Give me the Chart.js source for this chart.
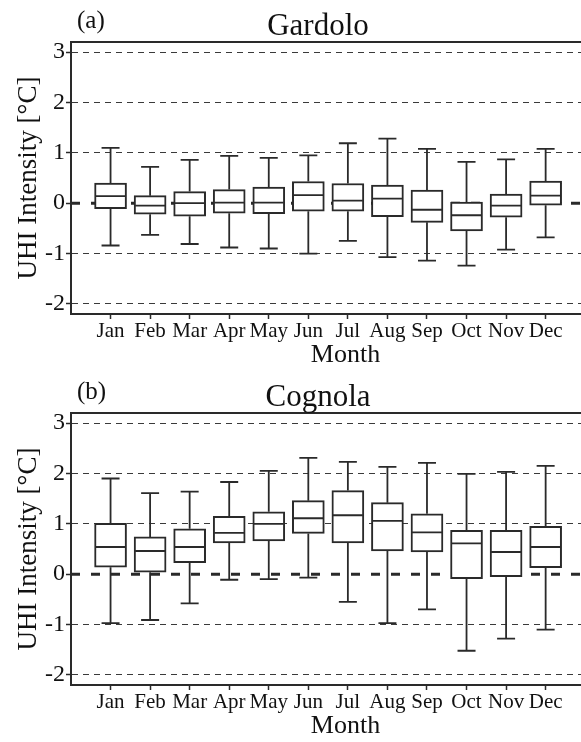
<!DOCTYPE html>
<html>
<head>
<meta charset="utf-8">
<script src="https://cdn.jsdelivr.net/npm/chart.js@4"></script>
<style>
  html, body { margin: 0; padding: 0; background: #fff; }
  #wrap { width: 581px; height: 742px; overflow: hidden; position: relative; }
  canvas { display: block; }
</style>
</head>
<body>
<div id="wrap">
  <canvas id="gardolo" width="620" height="371"></canvas>
  <canvas id="cognola" width="620" height="371"></canvas>
</div>
<script>
// months on the x axis
const months = ['Jan', 'Feb', 'Mar', 'Apr', 'May', 'Jun', 'Jul', 'Aug', 'Sep', 'Oct', 'Nov', 'Dec'];
const yTicks = [-2, -1, 0, 1, 2, 3];

// (a) Gardolo - box plot values, °C
const gardoloMin = [-0.84, -0.63, -0.81, -0.88, -0.90, -1.00, -0.75, -1.07, -1.14, -1.24, -0.92, -0.68];
const gardoloQ1  = [-0.11, -0.22, -0.26, -0.20, -0.21, -0.16, -0.16, -0.27, -0.38, -0.55, -0.28, -0.04];
const gardoloMed = [0.14, -0.05, 0.00, 0.01, 0.01, 0.16, 0.05, 0.09, -0.13, -0.24, -0.05, 0.15];
const gardoloQ3  = [0.40, 0.15, 0.23, 0.27, 0.32, 0.43, 0.39, 0.36, 0.26, 0.02, 0.18, 0.44];
const gardoloMax = [1.10, 0.72, 0.86, 0.94, 0.90, 0.95, 1.19, 1.28, 1.08, 0.82, 0.87, 1.08];

// (b) Cognola
const cognolaMin = [-0.97, -0.91, -0.58, -0.11, -0.10, -0.07, -0.55, -0.97, -0.70, -1.52, -1.28, -1.10];
const cognolaQ1  = [0.14, 0.04, 0.23, 0.62, 0.66, 0.81, 0.62, 0.46, 0.44, -0.09, -0.05, 0.13];
const cognolaMed = [0.54, 0.46, 0.54, 0.82, 1.00, 1.11, 1.17, 1.06, 0.83, 0.61, 0.44, 0.54];
const cognolaQ3  = [1.01, 0.74, 0.90, 1.15, 1.24, 1.46, 1.66, 1.42, 1.20, 0.87, 0.87, 0.95];
const cognolaMax = [1.90, 1.61, 1.64, 1.83, 2.05, 2.31, 2.23, 2.13, 2.21, 1.99, 2.03, 2.15];

Chart.defaults.font.family = "'Liberation Serif', 'Times New Roman', serif";
Chart.defaults.color = '#111';

const ink = '#2a2a2a';

// whiskers, medians, zero line, top frame and panel labels
const boxPlugin = {
  id: 'boxExtras',
  beforeDatasetsDraw(chart) {
    const ctx = chart.ctx, a = chart.chartArea, ys = chart.scales.y;
    const y0 = ys.getPixelForValue(0);
    ctx.save();
    ctx.strokeStyle = ink;
    ctx.lineWidth = 3;
    ctx.setLineDash([9, 11]);
    ctx.beginPath();
    ctx.moveTo(a.left, y0);
    ctx.lineTo(a.right, y0);
    ctx.stroke();
    ctx.setLineDash([]);
    ctx.lineWidth = 2;
    ctx.beginPath();
    ctx.moveTo(a.left, a.top);
    ctx.lineTo(a.right, a.top);
    ctx.stroke();
    ctx.restore();
  },
  afterDatasetsDraw(chart) {
    const ctx = chart.ctx, xs = chart.scales.x, ys = chart.scales.y;
    const st = chart.options.plugins.boxExtras;
    ctx.save();
    ctx.strokeStyle = ink;
    ctx.lineWidth = 1.8;
    st.med.forEach((m, i) => {
      const x = xs.getPixelForValue(i + 1);
      const pMin = ys.getPixelForValue(st.min[i]);
      const pMax = ys.getPixelForValue(st.max[i]);
      const pQ1 = ys.getPixelForValue(st.q1[i]);
      const pQ3 = ys.getPixelForValue(st.q3[i]);
      const pMed = ys.getPixelForValue(m);
      ctx.beginPath();
      ctx.moveTo(x, pQ3); ctx.lineTo(x, pMax);
      ctx.moveTo(x - 9, pMax); ctx.lineTo(x + 9, pMax);
      ctx.moveTo(x, pQ1); ctx.lineTo(x, pMin);
      ctx.moveTo(x - 9, pMin); ctx.lineTo(x + 9, pMin);
      ctx.moveTo(x - 15, pMed); ctx.lineTo(x + 15, pMed);
      ctx.stroke();
    });
    ctx.restore();
  },
  afterDraw(chart) {
    const ctx = chart.ctx;
    const st = chart.options.plugins.boxExtras;
    ctx.save();
    ctx.fillStyle = '#111';
    ctx.textBaseline = 'alphabetic';
    ctx.textAlign = 'left';
    ctx.font = "25px 'Liberation Serif'";
    ctx.fillText(st.tag, 77, 28);
    ctx.textAlign = 'center';
    ctx.font = "31px 'Liberation Serif'";
    ctx.fillText(st.name, 318, 35);
    ctx.restore();
  }
};

function makeChart(id, tag, name, mins, q1s, meds, q3s, maxs) {
  return new Chart(document.getElementById(id), {
    type: 'bar',
    data: {
      datasets: [{
        data: months.map((m, i) => ({ x: i + 1, y: [q1s[i], q3s[i]] })),
        backgroundColor: '#ffffff',
        borderColor: ink,
        borderWidth: 2,
        borderSkipped: false,
        barThickness: 32
      }]
    },
    options: {
      responsive: false,
      animation: false,
      devicePixelRatio: 1,
      layout: { padding: { top: 42, left: 0, right: 0, bottom: 0 } },
      plugins: {
        legend: { display: false },
        tooltip: { enabled: false },
        boxExtras: { tag: tag, name: name, min: mins, q1: q1s, med: meds, q3: q3s, max: maxs }
      },
      scales: {
        x: {
          type: 'linear',
          min: 0,
          max: 13.88,
          offset: false,
          afterBuildTicks: s => { s.ticks = months.map((m, i) => ({ value: i + 1 })); },
          afterFit: s => { s.height = 57; },
          ticks: {
            autoSkip: false,
            maxRotation: 0,
            padding: 0,
            font: { size: 21 },
            callback: v => months[v - 1]
          },
          grid: {
            offset: false,
            drawOnChartArea: false,
            drawTicks: true,
            tickLength: 5,
            tickColor: ink,
            tickWidth: 1.5
          },
          border: { display: true, color: ink, width: 2 },
          title: {
            display: true,
            text: 'Month',
            font: { size: 26 },
            padding: { top: 0, bottom: 0 }
          }
        },
        y: {
          min: -2.2,
          max: 3.2,
          afterBuildTicks: s => { s.ticks = yTicks.map(v => ({ value: v })); },
          afterFit: s => { s.width = 71; },
          ticks: { padding: 1, font: { size: 24 } },
          grid: {
            color: c => (c.tick && c.tick.value === 0) ? 'rgba(0,0,0,0)' : '#3a3a3a',
            lineWidth: 1,
            tickLength: 5,
            tickColor: ink,
            tickWidth: 1.5,
            tickBorderDash: []
          },
          border: { display: true, color: ink, width: 2, dash: [6, 5] },
          title: {
            display: true,
            text: 'UHI Intensity [°C]',
            font: { size: 27 },
            padding: { top: 13, bottom: 0 }
          }
        }
      }
    },
    plugins: [boxPlugin]
  });
}

makeChart('gardolo', '(a)', 'Gardolo', gardoloMin, gardoloQ1, gardoloMed, gardoloQ3, gardoloMax);
makeChart('cognola', '(b)', 'Cognola', cognolaMin, cognolaQ1, cognolaMed, cognolaQ3, cognolaMax);
</script>
</body>
</html>
